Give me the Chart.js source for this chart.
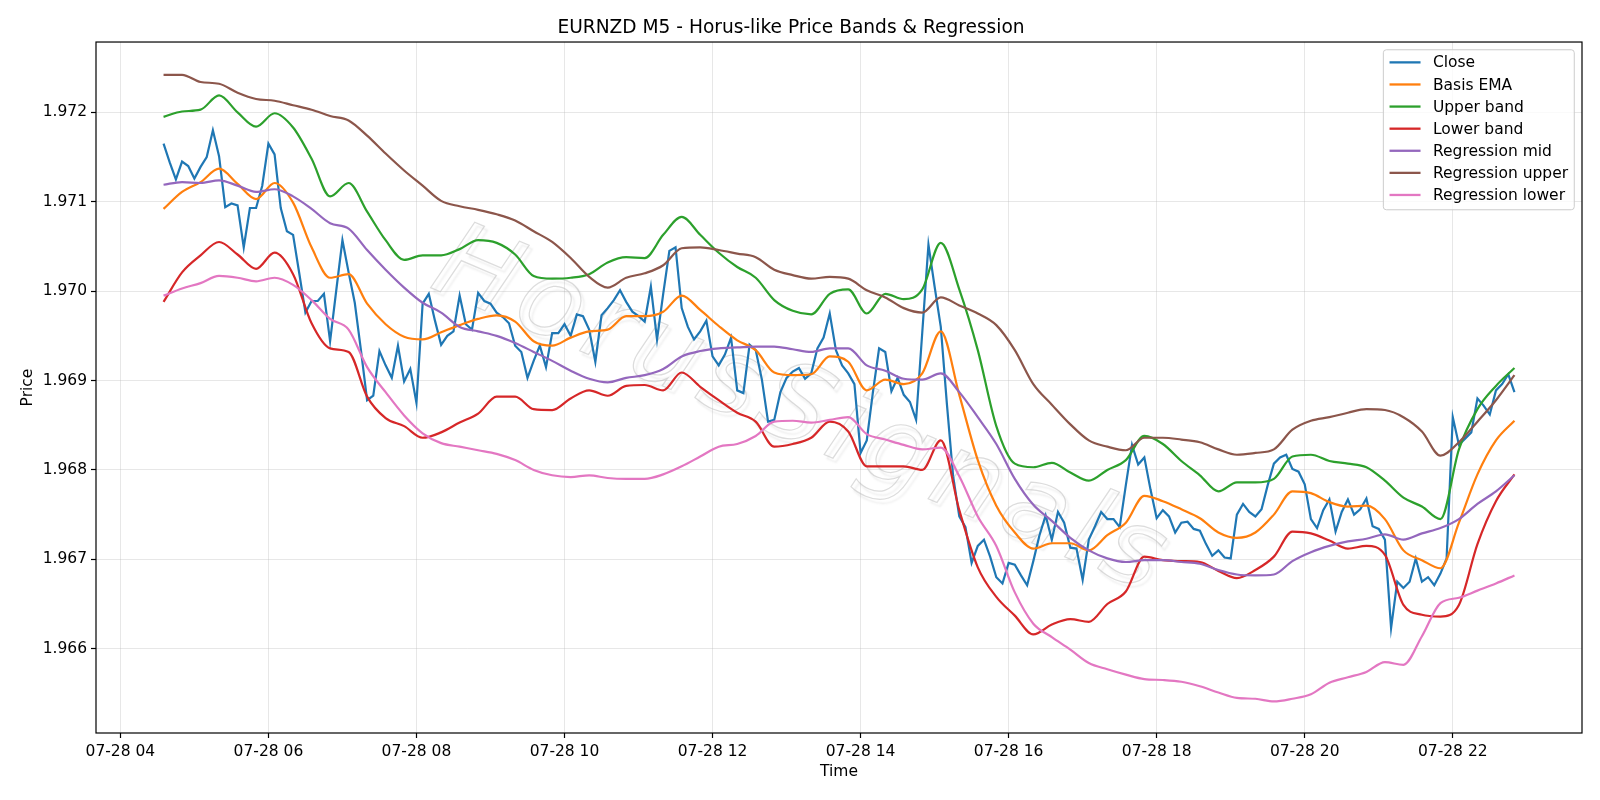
<!DOCTYPE html>
<html>
<head>
<meta charset="utf-8">
<title>EURNZD M5 - Horus-like Price Bands &amp; Regression</title>
<script src="https://cdn.jsdelivr.net/npm/chart.js@4.4.1/dist/chart.umd.min.js"></script>
<style>
  html, body { margin: 0; padding: 0; background: #fff; }
  #wrap { width: 1600px; height: 800px; }
</style>
</head>
<body>
<div id="wrap"><canvas id="chart" width="1600" height="800"></canvas></div>
<script>
// time axis is hours of 07-28, M5 bars from 04:35 to 22:50
const closeStart = 4 + 35 / 60;
const closeStep = 5 / 60;
const closeValues = [
  1.97165, 1.97144, 1.97125, 1.97145, 1.97140, 1.97126, 1.97139, 1.97150, 1.97180, 1.97151,
  1.97094, 1.97098, 1.97096, 1.97049, 1.97093, 1.97093, 1.97118, 1.97165, 1.97153, 1.97093,
  1.97067, 1.97063, 1.97020, 1.96976, 1.96989, 1.96989, 1.96997, 1.96944, 1.97001, 1.97057,
  1.97021, 1.96987, 1.96934, 1.96878, 1.96883, 1.96933, 1.96917, 1.96903, 1.96939, 1.96899,
  1.96913, 1.96875, 1.96986, 1.96997, 1.96967, 1.96940, 1.96950, 1.96955, 1.96995, 1.96963,
  1.96957, 1.96998, 1.96989, 1.96986, 1.96976, 1.96971, 1.96964, 1.96939, 1.96932, 1.96903,
  1.96922, 1.96939, 1.96915, 1.96953, 1.96953, 1.96963, 1.96950, 1.96974, 1.96972, 1.96957,
  1.96921, 1.96973, 1.96981, 1.96990, 1.97001, 1.96988, 1.96977, 1.96972, 1.96966, 1.97005,
  1.96946, 1.96997, 1.97045, 1.97049, 1.96981, 1.96960, 1.96946, 1.96955, 1.96967, 1.96927,
  1.96917, 1.96929, 1.96948, 1.96889, 1.96886, 1.96940, 1.96934, 1.96901, 1.96854, 1.96856,
  1.96887, 1.96903, 1.96910, 1.96914, 1.96902, 1.96908, 1.96936, 1.96948, 1.96975, 1.96934,
  1.96917, 1.96908, 1.96896, 1.96819, 1.96833, 1.96887, 1.96936, 1.96932, 1.96888, 1.96903,
  1.96884, 1.96876, 1.96856, 1.96954, 1.97052, 1.97005, 1.96960, 1.96873, 1.96793, 1.96748,
  1.96736, 1.96696, 1.96715, 1.96722, 1.96703, 1.96680, 1.96673, 1.96696, 1.96694, 1.96682,
  1.96671, 1.96698, 1.96727, 1.96749, 1.96722, 1.96753, 1.96741, 1.96713, 1.96712, 1.96677,
  1.96722, 1.96737, 1.96753, 1.96745, 1.96745, 1.96736, 1.96783, 1.96828, 1.96806, 1.96814,
  1.96778, 1.96746, 1.96755, 1.96748, 1.96730, 1.96741, 1.96742, 1.96734, 1.96732, 1.96717,
  1.96704, 1.96710, 1.96702, 1.96701, 1.96750, 1.96762, 1.96753, 1.96748, 1.96756, 1.96783,
  1.96807, 1.96814, 1.96817, 1.96801, 1.96798, 1.96784, 1.96745, 1.96735, 1.96755, 1.96767,
  1.96731, 1.96753, 1.96767, 1.96750, 1.96756, 1.96768, 1.96737, 1.96734, 1.96722, 1.96623,
  1.96675, 1.96668, 1.96675, 1.96701, 1.96675, 1.96680, 1.96671, 1.96684, 1.96701, 1.96859,
  1.96828, 1.96835, 1.96842, 1.96880, 1.96872, 1.96862, 1.96889, 1.96896, 1.96907, 1.96887
];

// band and regression lines, read every third bar (15 min)
const lineStart = closeStart;
const lineStep = 15 / 60;
const basisEma = [
  1.97092, 1.97111, 1.97122, 1.97137, 1.97120, 1.97103, 1.97121, 1.97099,
  1.97049, 1.97015, 1.97019, 1.96986, 1.96963, 1.96949, 1.96946,
  1.96954, 1.96962, 1.96969, 1.96973, 1.96966, 1.96944, 1.96939, 1.96948,
  1.96955, 1.96957, 1.96972, 1.96972, 1.96977, 1.96995, 1.96979,
  1.96961, 1.96945, 1.96934, 1.96909, 1.96906, 1.96907, 1.96927, 1.96921,
  1.96889, 1.96901, 1.96896, 1.96908, 1.96955, 1.96884, 1.96811,
  1.96760, 1.96730, 1.96712, 1.96718, 1.96718, 1.96710, 1.96727,
  1.96741, 1.96771, 1.96765, 1.96756, 1.96746, 1.96730, 1.96724, 1.96730,
  1.96750, 1.96776, 1.96774, 1.96764, 1.96759, 1.96760, 1.96745,
  1.96710, 1.96699, 1.96690, 1.96741, 1.96795, 1.96833, 1.96855
];
const upperBand = [
  1.97195, 1.97201, 1.97203, 1.97219, 1.97200, 1.97184, 1.97199, 1.97183,
  1.97148, 1.97106, 1.97121, 1.97089, 1.97057, 1.97035, 1.97040,
  1.97040, 1.97047, 1.97057, 1.97054, 1.97041, 1.97017, 1.97014, 1.97015,
  1.97019, 1.97032, 1.97038, 1.97037, 1.97063, 1.97083, 1.97063,
  1.97043, 1.97027, 1.97015, 1.96990, 1.96978, 1.96974, 1.96997, 1.97002,
  1.96975, 1.96997, 1.96991, 1.97002, 1.97054, 1.97002, 1.96934,
  1.96849, 1.96807, 1.96803, 1.96808, 1.96797, 1.96788, 1.96800,
  1.96811, 1.96838, 1.96829, 1.96810, 1.96794, 1.96776, 1.96786, 1.96786,
  1.96790, 1.96815, 1.96817, 1.96810, 1.96807, 1.96803, 1.96788,
  1.96769, 1.96759, 1.96745, 1.96823, 1.96868, 1.96894, 1.96914
];
const lowerBand = [
  1.96988, 1.97021, 1.97040, 1.97055, 1.97041, 1.97025, 1.97043, 1.97019,
  1.96964, 1.96936, 1.96932, 1.96882, 1.96858, 1.96849, 1.96836,
  1.96842, 1.96853, 1.96863, 1.96882, 1.96882, 1.96868, 1.96867, 1.96880,
  1.96889, 1.96883, 1.96894, 1.96895, 1.96889, 1.96909, 1.96893,
  1.96878, 1.96864, 1.96854, 1.96826, 1.96829, 1.96836, 1.96854, 1.96843,
  1.96804, 1.96804, 1.96804, 1.96800, 1.96833, 1.96755, 1.96691,
  1.96658, 1.96637, 1.96616, 1.96627, 1.96633, 1.96630, 1.96650,
  1.96664, 1.96703, 1.96699, 1.96698, 1.96697, 1.96687, 1.96679, 1.96688,
  1.96703, 1.96731, 1.96729, 1.96721, 1.96712, 1.96715, 1.96705,
  1.96649, 1.96638, 1.96636, 1.96649, 1.96717, 1.96765, 1.96795
];
const regMid = [
  1.97119, 1.97122, 1.97121, 1.97124, 1.97118, 1.97111, 1.97114, 1.97106,
  1.97092, 1.97076, 1.97070, 1.97046, 1.97024, 1.97004, 1.96987,
  1.96976, 1.96960, 1.96955, 1.96950, 1.96942, 1.96932, 1.96922, 1.96911,
  1.96902, 1.96898, 1.96903, 1.96906, 1.96913, 1.96927, 1.96933,
  1.96936, 1.96937, 1.96938, 1.96938, 1.96935, 1.96932, 1.96936, 1.96936,
  1.96917, 1.96911, 1.96902, 1.96901, 1.96908, 1.96887, 1.96859,
  1.96829, 1.96790, 1.96761, 1.96743, 1.96724, 1.96710, 1.96701,
  1.96697, 1.96699, 1.96699, 1.96697, 1.96695, 1.96688, 1.96683, 1.96682,
  1.96683, 1.96698, 1.96708, 1.96715, 1.96720, 1.96723, 1.96728,
  1.96722, 1.96729, 1.96735, 1.96745, 1.96762, 1.96776, 1.96794
];
const regUpper = [
  1.97242, 1.97242, 1.97234, 1.97232, 1.97222, 1.97215, 1.97213, 1.97208,
  1.97203, 1.97196, 1.97191, 1.97174, 1.97154, 1.97135, 1.97118,
  1.97101, 1.97095, 1.97091, 1.97086, 1.97079, 1.97067, 1.97055, 1.97037,
  1.97016, 1.97004, 1.97015, 1.97020, 1.97029, 1.97048, 1.97049,
  1.97046, 1.97042, 1.97038, 1.97024, 1.97018, 1.97014, 1.97016, 1.97014,
  1.97001, 1.96993, 1.96981, 1.96976, 1.96993, 1.96984, 1.96975,
  1.96962, 1.96934, 1.96896, 1.96873, 1.96851, 1.96833, 1.96826,
  1.96822, 1.96836, 1.96836, 1.96834, 1.96831, 1.96823, 1.96817, 1.96819,
  1.96823, 1.96845, 1.96855, 1.96859, 1.96864, 1.96868, 1.96867,
  1.96859, 1.96843, 1.96816, 1.96831, 1.96854, 1.96878, 1.96906
];
const regLower = [
  1.96995, 1.97003, 1.97009, 1.97017, 1.97015, 1.97011, 1.97015, 1.97007,
  1.96990, 1.96969, 1.96957, 1.96915, 1.96887, 1.96861, 1.96841,
  1.96830, 1.96826, 1.96822, 1.96818, 1.96811, 1.96800, 1.96794, 1.96792,
  1.96794, 1.96791, 1.96790, 1.96790, 1.96795, 1.96804, 1.96815,
  1.96826, 1.96829, 1.96838, 1.96854, 1.96855, 1.96853, 1.96856, 1.96859,
  1.96840, 1.96834, 1.96828, 1.96823, 1.96825, 1.96793, 1.96748,
  1.96715, 1.96663, 1.96628, 1.96613, 1.96599, 1.96584, 1.96577,
  1.96571, 1.96566, 1.96565, 1.96563, 1.96558, 1.96551, 1.96545, 1.96544,
  1.96541, 1.96544, 1.96549, 1.96562, 1.96568, 1.96574, 1.96585,
  1.96582, 1.96614, 1.96651, 1.96657, 1.96665, 1.96673, 1.96682
];

const xTickHours = [4, 6, 8, 10, 12, 14, 16, 18, 20, 22];
const xTickLabels = ['07-28 04', '07-28 06', '07-28 08', '07-28 10', '07-28 12',
  '07-28 14', '07-28 16', '07-28 18', '07-28 20', '07-28 22'];
const yTickValues = [1.966, 1.967, 1.968, 1.969, 1.970, 1.971, 1.972];
const yTickLabels = ['1.966', '1.967', '1.968', '1.969', '1.970', '1.971', '1.972'];
const watermarkText = 'HorusSignals';

const FONT = 'DejaVu Sans';
const toPoints = (values, start, step) => values.map((v, i) => ({ x: start + i * step, y: v }));

const series = [
  { label: 'Close', color: '#1f77b4', points: toPoints(closeValues, closeStart, closeStep), smooth: false },
  { label: 'Basis EMA', color: '#ff7f0e', points: toPoints(basisEma, lineStart, lineStep), smooth: true },
  { label: 'Upper band', color: '#2ca02c', points: toPoints(upperBand, lineStart, lineStep), smooth: true },
  { label: 'Lower band', color: '#d62728', points: toPoints(lowerBand, lineStart, lineStep), smooth: true },
  { label: 'Regression mid', color: '#9467bd', points: toPoints(regMid, lineStart, lineStep), smooth: true },
  { label: 'Regression upper', color: '#8c564b', points: toPoints(regUpper, lineStart, lineStep), smooth: true },
  { label: 'Regression lower', color: '#e377c2', points: toPoints(regLower, lineStart, lineStep), smooth: true }
];

// faint diagonal watermark behind the lines
const watermarkPlugin = {
  id: 'watermark',
  beforeDatasetsDraw(chart) {
    const { ctx, chartArea: a } = chart;
    ctx.save();
    ctx.beginPath();
    ctx.rect(a.left, a.top, a.right - a.left, a.bottom - a.top);
    ctx.clip();
    ctx.translate(a.left + 0.475 * (a.right - a.left), a.top + 0.54 * (a.bottom - a.top));
    ctx.rotate(23 * Math.PI / 180);
    ctx.font = 'italic 200 80px "' + FONT + '"';
    ctx.letterSpacing = '8px';
    const k = 820 / ctx.measureText(watermarkText).width;
    ctx.font = 'italic 200 ' + (80 * k).toFixed(1) + 'px "' + FONT + '"';
    ctx.textAlign = 'center';
    ctx.textBaseline = 'middle';
    ctx.shadowColor = 'rgba(120,120,120,0.3)';
    ctx.shadowOffsetX = 3;
    ctx.shadowOffsetY = 4;
    ctx.shadowBlur = 2;
    ctx.lineWidth = 1.2;
    ctx.strokeStyle = 'rgba(185,185,185,0.5)';
    ctx.strokeText(watermarkText, 0, 0);
    ctx.restore();
  }
};

// frame round the axes and a matplotlib-like legend box in the upper right
const framePlugin = {
  id: 'frame',
  afterDraw(chart) {
    const { ctx, chartArea: a } = chart;
    ctx.save();
    ctx.strokeStyle = '#000';
    ctx.lineWidth = 1.2;
    ctx.strokeRect(a.left, a.top, a.right - a.left, a.bottom - a.top);

    const fs = 15.5;
    ctx.font = fs + 'px "' + FONT + '"';
    const labels = chart.data.datasets.map(d => d.label);
    const textW = Math.max(...labels.map(l => ctx.measureText(l).width));
    const pad = 0.4 * fs, handle = 2 * fs, gap = 0.8 * fs, rowH = 22.1;
    const w = pad * 2 + handle + gap + textW;
    const h = 160;
    const right = a.right - 0.5 * fs;
    const left = right - w;
    const top = a.top + 0.5 * fs;
    ctx.beginPath();
    ctx.roundRect(left, top, w, h, 3);
    ctx.fillStyle = 'rgba(255,255,255,0.8)';
    ctx.fill();
    ctx.strokeStyle = '#cccccc';
    ctx.lineWidth = 1;
    ctx.stroke();
    ctx.textBaseline = 'middle';
    ctx.textAlign = 'left';
    chart.data.datasets.forEach((d, i) => {
      const y = top + 12.6 + i * rowH;
      ctx.strokeStyle = d.borderColor;
      ctx.lineWidth = 2.3;
      ctx.beginPath();
      ctx.moveTo(left + pad, y);
      ctx.lineTo(left + pad + handle, y);
      ctx.stroke();
      ctx.fillStyle = '#000';
      ctx.fillText(d.label, left + pad + handle + gap, y + 1);
    });
    ctx.restore();
  }
};

new Chart(document.getElementById('chart'), {
  type: 'line',
  data: {
    datasets: series.map((s, i) => ({
      label: s.label,
      data: s.points,
      borderColor: s.color,
      backgroundColor: s.color,
      borderWidth: 2.2,
      pointRadius: 0,
      tension: 0,
      cubicInterpolationMode: s.smooth ? 'monotone' : 'default',
      fill: false,
      order: series.length - 1 - i
    }))
  },
  options: {
    responsive: false,
    animation: false,
    devicePixelRatio: 1,
    layout: { padding: { left: 0, right: 18, top: 0, bottom: 0 } },
    plugins: {
      legend: { display: false },
      tooltip: { enabled: false },
      title: {
        display: true,
        text: 'EURNZD M5 - Horus-like Price Bands & Regression',
        color: '#000',
        font: { family: FONT, size: 18.6, weight: 'normal' },
        padding: { top: 17, bottom: 2.7 }
      }
    },
    scales: {
      x: {
        type: 'linear',
        min: 3.6708,
        max: 23.7458,
        afterBuildTicks: axis => { axis.ticks = xTickHours.map(v => ({ value: v })); },
        afterFit: axis => { axis.height = 67; },
        ticks: {
          color: '#000',
          font: { family: FONT, size: 15.5 },
          padding: 5,
          autoSkip: false,
          maxRotation: 0,
          callback: v => xTickLabels[xTickHours.indexOf(v)]
        },
        grid: { color: 'rgba(176,176,176,0.3)', lineWidth: 1, tickColor: '#000', tickLength: 5, tickWidth: 1.2 },
        border: { display: false },
        title: {
          display: true, text: 'Time', color: '#000',
          font: { family: FONT, size: 15.5 },
          padding: { top: 0, bottom: 19 }
        }
      },
      y: {
        type: 'linear',
        min: 1.965057,
        max: 1.972787,
        afterBuildTicks: axis => { axis.ticks = yTickValues.map(v => ({ value: v })); },
        afterFit: axis => { axis.width = 96; },
        ticks: {
          color: '#000',
          font: { family: FONT, size: 15.5 },
          padding: 4,
          callback: v => yTickLabels[yTickValues.findIndex(t => Math.abs(t - v) < 1e-9)]
        },
        grid: { color: 'rgba(176,176,176,0.3)', lineWidth: 1, tickColor: '#000', tickLength: 5, tickWidth: 1.2 },
        border: { display: false },
        title: {
          display: true, text: 'Price', color: '#000',
          font: { family: FONT, size: 15.5 },
          padding: { top: 19, bottom: 0 }
        }
      }
    }
  },
  plugins: [watermarkPlugin, framePlugin]
});
</script>
</body>
</html>
